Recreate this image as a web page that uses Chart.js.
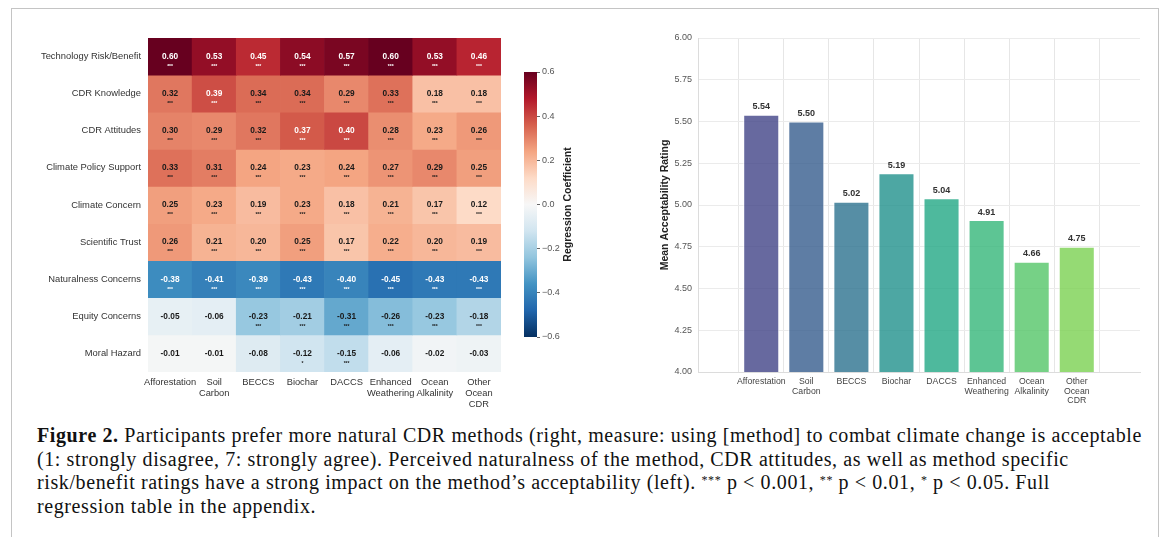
<!DOCTYPE html>
<html lang="en">
<head>
  <meta charset="UTF-8" />
  <title>Figure 2 — CDR acceptability</title>
  <style>
    body {
      margin: 0;
      width: 1170px;
      height: 537px;
      overflow: hidden;
      background: #ffffff;
      font-family: 'Liberation Sans', Arial, sans-serif;
    }

    .frame {
      position: absolute;
      left: 11px;
      top: 8px;
      width: 1146px;
      height: 600px;
      border: 1px solid #c4c4c4;
    }

    .box {
      position: absolute;
    }

    .caption {
      position: absolute;
      left: 37px;
      top: 424px;
      width: 1125px;
      font-family: 'Liberation Serif', 'Times New Roman', serif;
      font-size: 20px;
      letter-spacing: 0.6px;
      line-height: 23.5px;
      color: #111;
      white-space: nowrap;
    }

    .caption sup {
      font-size: 12px;
      vertical-align: 5px;
      line-height: 0;
    }
  </style>
</head>
<body>
  <div class="frame"></div>

  <div class="box" style="left:0; top:0; width:520px; height:420px;">
    <canvas id="heatmap"></canvas>
  </div>
  <div class="box" style="left:500px; top:60px; width:100px; height:290px;">
    <canvas id="colorbar"></canvas>
  </div>
  <div class="box" style="left:640px; top:25px; width:520px; height:395px;">
    <canvas id="bars"></canvas>
  </div>

  <div class="caption">
    <b>Figure 2.</b> Participants prefer more natural CDR methods (right, measure: using [method] to combat climate change is acceptable<br>
    (1: strongly disagree, 7: strongly agree). Perceived naturalness of the method, CDR attitudes, as well as method specific<br>
    risk/benefit ratings have a strong impact on the method’s acceptability (left). <sup>***</sup> p &lt; 0.001, <sup>**</sup> p &lt; 0.01, <sup>*</sup> p &lt; 0.05. Full<br>
    regression table in the appendix.
  </div>

  <script src="https://cdn.jsdelivr.net/npm/chart.js"></script>
  <script>
    // métodos (eixo x dos dois gráficos)
    const methods = [
      'Afforestation', ['Soil', 'Carbon'], 'BECCS', 'Biochar', 'DACCS',
      ['Enhanced', 'Weathering'], ['Ocean', 'Alkalinity'], ['Other', 'Ocean', 'CDR']
    ];

    const rowLabels = [
      'Technology Risk/Benefit', 'CDR Knowledge', 'CDR Attitudes', 'Climate Policy Support',
      'Climate Concern', 'Scientific Trust', 'Naturalness Concerns', 'Equity Concerns', 'Moral Hazard'
    ];

    const coefTechRisk    = [0.60, 0.53, 0.45, 0.54, 0.57, 0.60, 0.53, 0.46];
    const coefKnowledge   = [0.32, 0.39, 0.34, 0.34, 0.29, 0.33, 0.18, 0.18];
    const coefAttitudes   = [0.30, 0.29, 0.32, 0.37, 0.40, 0.28, 0.23, 0.26];
    const coefPolicy      = [0.33, 0.31, 0.24, 0.23, 0.24, 0.27, 0.29, 0.25];
    const coefConcern     = [0.25, 0.23, 0.19, 0.23, 0.18, 0.21, 0.17, 0.12];
    const coefTrust       = [0.26, 0.21, 0.20, 0.25, 0.17, 0.22, 0.20, 0.19];
    const coefNaturalness = [-0.38, -0.41, -0.39, -0.43, -0.40, -0.45, -0.43, -0.43];
    const coefEquity      = [-0.05, -0.06, -0.23, -0.21, -0.31, -0.26, -0.23, -0.18];
    const coefMoralHazard = [-0.01, -0.01, -0.08, -0.12, -0.15, -0.06, -0.02, -0.03];

    const sigEquity      = ['', '', '***', '***', '***', '***', '***', '***'];
    const sigMoralHazard = ['', '', '', '*', '***', '', '', ''];
    const sigAll         = ['***', '***', '***', '***', '***', '***', '***', '***'];

    const coefRows = [coefTechRisk, coefKnowledge, coefAttitudes, coefPolicy, coefConcern,
                      coefTrust, coefNaturalness, coefEquity, coefMoralHazard];
    const sigRows = [sigAll, sigAll, sigAll, sigAll, sigAll, sigAll, sigAll, sigEquity, sigMoralHazard];

    const ratings = [5.54, 5.50, 5.02, 5.19, 5.04, 4.91, 4.66, 4.75];

    // RdBu_r, de -0.6 a 0.6
    const rdbu = ['#053061', '#2166ac', '#4393c3', '#92c5de', '#d1e5f0', '#f7f7f7',
                  '#fddbc7', '#f4a582', '#d6604d', '#b2182b', '#67001f'];

    function hex(c) {
      return [1, 3, 5].map(i => parseInt(c.slice(i, i + 2), 16));
    }

    function corMapa(v) {
      let t = (v + 0.6) / 1.2;
      t = Math.max(0, Math.min(1, t)) * (rdbu.length - 1);
      const i = Math.min(Math.floor(t), rdbu.length - 2);
      const f = t - i;
      const a = hex(rdbu[i]), b = hex(rdbu[i + 1]);
      const c = a.map((x, k) => Math.round(x + (b[k] - x) * f));
      return `rgb(${c[0]},${c[1]},${c[2]})`;
    }

    const sans = "'Liberation Sans', Arial, sans-serif";

    // texto dentro das células
    const cellText = {
      id: 'cellText',
      afterDatasetsDraw(chart) {
        const ctx = chart.ctx;
        ctx.save();
        ctx.textAlign = 'center';
        ctx.textBaseline = 'middle';
        chart.data.datasets.forEach((ds, r) => {
          chart.getDatasetMeta(r).data.forEach((bar, c) => {
            const v = coefRows[r][c];
            const cy = (bar.y + bar.base) / 2;
            ctx.fillStyle = Math.abs(v) > 0.35 ? '#ffffff' : '#1a1a1a';
            ctx.font = `bold 8.3px ${sans}`;
            ctx.fillText(v.toFixed(2), bar.x, cy);
            if (sigRows[r][c]) {
              ctx.font = `bold 5px ${sans}`;
              ctx.fillText(sigRows[r][c], bar.x, cy + 10);
            }
          });
        });
        ctx.restore();
      }
    };

    new Chart(document.getElementById('heatmap'), {
      type: 'bar',
      data: {
        labels: methods,
        datasets: rowLabels.map((name, r) => ({
          label: name,
          data: methods.map(() => [r, r + 1]),
          backgroundColor: coefRows[r].map(corMapa),
          borderWidth: 0,
          barPercentage: 1,
          categoryPercentage: 1,
          grouped: false
        }))
      },
      options: {
        responsive: true,
        maintainAspectRatio: false,
        animation: false,
        layout: { padding: { top: 38, right: 19, left: 0, bottom: 0 } },
        plugins: { legend: { display: false }, tooltip: { enabled: false } },
        scales: {
          x: {
            offset: true,
            z: 1,
            border: { display: false },
            grid: { offset: false, color: 'rgba(230,230,230,0.65)', drawTicks: false },
            ticks: { autoSkip: false, maxRotation: 0, padding: 5, color: '#333', font: { size: 9.3, family: sans, lineHeight: 1.18 } },
            afterFit: s => { s.height = 48; }
          },
          y: {
            type: 'linear',
            min: 0,
            max: 9,
            reverse: true,
            z: 1,
            border: { display: false },
            grid: { color: 'rgba(230,230,230,0.65)', drawTicks: false },
            afterBuildTicks: s => { s.ticks = rowLabels.map((_, i) => ({ value: i + 0.5 })); },
            ticks: {
              autoSkip: false,
              padding: 7,
              color: '#333',
              font: { size: 9.4, family: sans },
              callback: (v, i) => rowLabels[i]
            },
            afterFit: s => { s.width = 148; }
          }
        }
      },
      plugins: [cellText]
    });

    // barra de cores
    const cbTitle = {
      id: 'cbTitle',
      afterDraw(chart) {
        const a = chart.chartArea;
        const ctx = chart.ctx;
        ctx.save();
        ctx.translate(68, (a.top + a.bottom) / 2);
        ctx.rotate(-Math.PI / 2);
        ctx.textAlign = 'center';
        ctx.textBaseline = 'middle';
        ctx.fillStyle = '#222';
        ctx.font = `bold 10.5px ${sans}`;
        ctx.fillText('Regression Coefficient', 0, 0);
        ctx.restore();
      }
    };

    new Chart(document.getElementById('colorbar'), {
      type: 'bar',
      data: {
        labels: [''],
        datasets: [{
          data: [[-0.6, 0.6]],
          barPercentage: 1,
          categoryPercentage: 1,
          borderWidth: 0,
          backgroundColor: ctx => {
            const area = ctx.chart.chartArea;
            if (!area) return '#f7f7f7';
            const g = ctx.chart.ctx.createLinearGradient(0, area.bottom, 0, area.top);
            rdbu.forEach((c, i) => g.addColorStop(i / (rdbu.length - 1), c));
            return g;
          }
        }]
      },
      options: {
        responsive: true,
        maintainAspectRatio: false,
        animation: false,
        layout: { padding: { top: 12, left: 24, bottom: 13, right: 0 } },
        plugins: { legend: { display: false }, tooltip: { enabled: false } },
        scales: {
          x: { display: false },
          y: {
            position: 'right',
            min: -0.6,
            max: 0.6,
            border: { display: false },
            grid: { drawOnChartArea: false, tickLength: 3, color: '#666' },
            ticks: {
              stepSize: 0.2,
              padding: 2,
              color: '#555',
              font: { size: 9, family: sans },
              callback: v => (v < -1e-9 ? '\u2212' : '') + Math.abs(v).toFixed(1)
            },
            afterFit: s => { s.width = 63; }
          }
        }
      },
      plugins: [cbTitle]
    });

    // gráfico de barras (direita)
    const barColors = [
      'rgba(65,68,135,0.8)', 'rgba(54,92,141,0.8)', 'rgba(44,114,142,0.8)', 'rgba(33,145,140,0.8)',
      'rgba(34,168,132,0.8)', 'rgba(53,183,121,0.8)', 'rgba(84,197,104,0.8)', 'rgba(122,209,81,0.8)'
    ];

    const barLabels = {
      id: 'barLabels',
      afterDatasetsDraw(chart) {
        const ctx = chart.ctx;
        ctx.save();
        ctx.textAlign = 'center';
        ctx.textBaseline = 'middle';
        ctx.fillStyle = '#333';
        ctx.font = `bold 9px ${sans}`;
        chart.getDatasetMeta(0).data.forEach((bar, i) => {
          ctx.fillText(ratings[i].toFixed(2), bar.x, bar.y - 8);
        });
        ctx.restore();
      }
    };

    new Chart(document.getElementById('bars'), {
      type: 'bar',
      data: {
        datasets: [{
          data: ratings.map((v, i) => ({ x: i, y: v })),
          backgroundColor: barColors,
          borderColor: 'rgba(255,255,255,0.7)',
          borderWidth: 1,
          barPercentage: 0.8,
          categoryPercentage: 1
        }]
      },
      options: {
        responsive: true,
        maintainAspectRatio: false,
        animation: false,
        layout: { padding: { top: 13, right: 20, left: 0, bottom: 0 } },
        plugins: { legend: { display: false }, tooltip: { enabled: false } },
        scales: {
          x: {
            type: 'linear',
            min: -0.79,
            max: 7.79,
            border: { color: '#dcdcdc' },
            grid: { color: '#e6e6e6', drawTicks: false },
            afterBuildTicks: s => { s.ticks = methods.map((_, i) => ({ value: i })); },
            ticks: {
              autoSkip: false,
              maxRotation: 0,
              padding: 5,
              color: '#444',
              font: { size: 8.7, family: sans, lineHeight: 1.1 },
              callback: (v, i) => methods[i]
            },
            afterFit: s => { s.height = 48; }
          },
          y: {
            min: 4,
            max: 6,
            border: { color: '#dcdcdc' },
            grid: { color: '#ebebeb', drawTicks: false },
            ticks: {
              stepSize: 0.25,
              padding: 6,
              color: '#555',
              font: { size: 9, family: sans },
              callback: v => v.toFixed(2)
            },
            title: {
              display: true,
              text: 'Mean Acceptability Rating',
              color: '#222',
              font: { size: 10.5, weight: 'bold', family: sans },
              padding: { top: 19, bottom: 0 }
            },
            afterFit: s => { s.width = 58; }
          }
        }
      },
      plugins: [barLabels]
    });
  </script>
</body>
</html>
